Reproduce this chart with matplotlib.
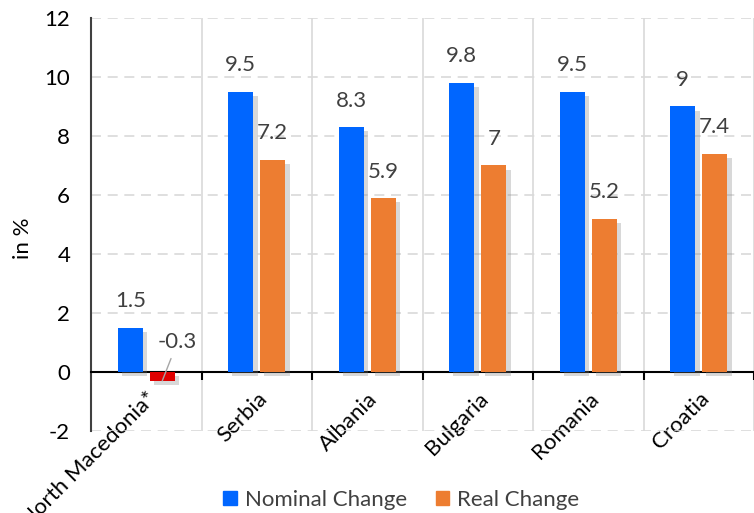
import matplotlib
matplotlib.use("Agg")
import matplotlib.pyplot as plt
import matplotlib.patheffects as pe
import numpy as np

countries = ["North Macedonia*", "Serbia", "Albania", "Bulgaria", "Romania", "Croatia"]
nominal = [1.5, 9.5, 8.3, 9.8, 9.5, 9.0]
real = [-0.3, 7.2, 5.9, 7.0, 5.2, 7.4]
nominal_labels = ["1.5", "9.5", "8.3", "9.8", "9.5", "9"]
real_labels = ["-0.3", "7.2", "5.9", "7", "5.2", "7.4"]

BLUE = "#0066FF"
ORANGE = "#ED7D31"
RED = "#E00000"
TXT = "#404040"
FS = 16

plt.rcParams["font.family"] = ["Lato", "DejaVu Sans"]
plt.rcParams["axes.unicode_minus"] = False

fig = plt.figure(figsize=(7.54, 5.13), dpi=100)
ax = fig.add_axes([0.1207, 0.16, 0.8793, 0.805])

# set spine position first: it resets the ticks
ax.spines["bottom"].set_position(("data", 0))
ax.spines["bottom"].set_linewidth(1.5)
ax.spines["left"].set_linewidth(1.5)
ax.spines["left"].set_color("#404040")
ax.spines[["top", "right"]].set_visible(False)

x = np.arange(len(countries))
w = 0.23
off = 0.145
shadow = [pe.SimplePatchShadow(offset=(3, -3), shadow_rgbFace="#808080", alpha=0.3),
          pe.Normal()]

real_colors = [RED if v < 0 else ORANGE for v in real]
b1 = ax.bar(x - off, nominal, w, color=BLUE, zorder=3)
b2 = ax.bar(x + off, real, w, color=real_colors, zorder=3)
for b in list(b1) + list(b2):
    b.set_path_effects(shadow)

for xi, v, s in zip(x, nominal, nominal_labels):
    ax.annotate(s, (xi - off, v), xytext=(0, 19), textcoords="offset points",
                ha="center", va="center", fontsize=FS, color=TXT)
for xi, v, s in zip(x, real, real_labels):
    if v < 0:
        ax.annotate(s, (xi + off, v), xytext=(11, 28), textcoords="offset points",
                    ha="center", va="center", fontsize=FS, color=TXT,
                    arrowprops=dict(arrowstyle="-", color="#A6A6A6", lw=1,
                                    shrinkA=3, shrinkB=0))
    else:
        ax.annotate(s, (xi + off, v), xytext=(0, 19), textcoords="offset points",
                    ha="center", va="center", fontsize=FS, color=TXT)

ax.set_xlim(-0.5, 5.42)
ax.set_ylim(-2, 12)
ax.set_yticks(range(-2, 13, 2))
ax.tick_params(axis="y", labelsize=FS, length=0, pad=15)

# category labels on major ticks, boundaries (ticks + vertical grid) on minor ticks
ax.set_xticks(x)
ax.set_xticklabels(countries, fontsize=FS, rotation=45, ha="right", va="top",
                   rotation_mode="anchor")
ax.tick_params(axis="x", which="major", length=0, pad=12)
ax.set_xticks(x + 0.5, minor=True)
ax.tick_params(axis="x", which="minor", length=6, width=1.5, direction="out")

ax.grid(axis="y", color="#D9D9D9", linestyle=(0, (6, 4)), lw=1.2, zorder=0)
ax.grid(axis="x", which="minor", color="#D9D9D9", linestyle="-", lw=1.2, zorder=0)
ax.grid(axis="x", which="major", visible=False)

ax.set_ylabel("in %", fontsize=FS)
ax.yaxis.set_label_coords(-0.087, 0.467)

handles = [plt.Rectangle((0, 0), 1, 1, color=BLUE), plt.Rectangle((0, 0), 1, 1, color=ORANGE)]
fig.legend(handles, ["Nominal Change", "Real Change"], loc="center",
           bbox_to_anchor=(0.532, 0.025), ncol=2, frameon=False, fontsize=FS,
           handlelength=0.6, handleheight=0.6, columnspacing=1.3, handletextpad=0.35,
           labelcolor=TXT)

fig.savefig("out.png", dpi=100)
